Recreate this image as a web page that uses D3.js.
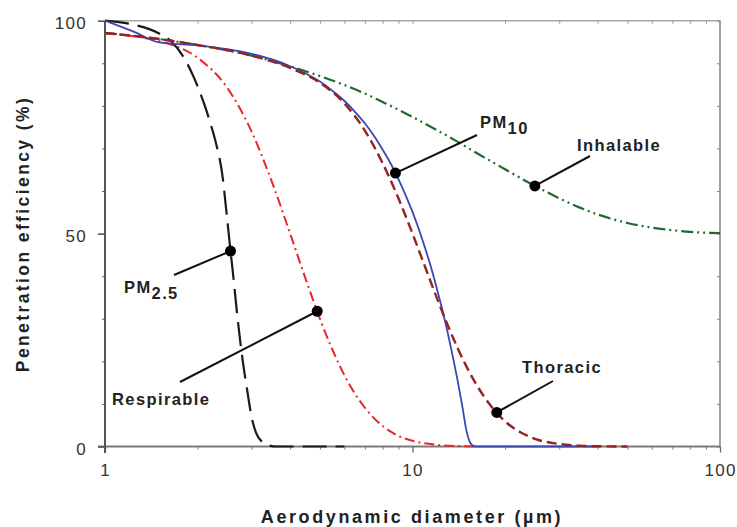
<!DOCTYPE html>
<html><head><meta charset="utf-8">
<script src="https://cdn.jsdelivr.net/npm/d3@7"></script>
<style>body{margin:0;background:#fff}svg{display:block}</style>
</head><body>
<svg id="c" width="737" height="527"></svg>
<script>
// ---- data ----
const xMajorTicks = [1, 10, 100];
const xMinorTicks = [2, 3, 4, 5, 6, 7, 8, 9, 20, 30, 40, 50, 60, 70, 80, 90];
const yMajorTicks = [0, 50, 100];
const yMinorTicks = [10, 20, 30, 40, 60, 70, 80, 90];

const inhalable = [[1,97.1],[1.5,95.7],[2,94.3],[3,91.8],[4,89.3],[5,87.0],[6,84.9],[7,82.9],[8,80.9],[9,79.1],[10,77.4],[12,74.3],[14,71.6],[16,69.1],[18,67.0],[20,65.1],[25,61.2],[30,58.3],[35,56.1],[40,54.5],[50,52.5],[60,51.4],[70,50.8],[80,50.4],[90,50.2],[100,50.1]];
const thoracic = [[1,97.1],[1.5,95.7],[2,94.3],[3,91.8],[4,88.9],[5,85.4],[6,80.6],[7,74.2],[8,66.5],[9,58.3],[10,50.0],[11,42.1],[12,34.9],[13,28.6],[14,23.2],[15,18.7],[16,15.0],[18,9.5],[20,5.9],[22.5,3.3],[25,1.8],[30,0.6],[35,0.2],[40,0.06],[50,0]];
const respirable = [[1,97.1],[1.25,96.3],[1.5,95.2],[2,91.3],[2.5,84.2],[3,73.9],[3.5,61.9],[4,50.0],[4.5,39.2],[5,30.0],[5.5,22.6],[6,16.8],[7,9.1],[8,4.8],[9,2.5],[10,1.35],[12,0.4],[14,0.1],[16,0]];
const pm10 = [[1,100],[1.25,97.3],[1.5,94.9],[2,94.2],[2.5,93.3],[3,92.2],[3.5,90.9],[4,89.3],[4.5,87.6],[5,85.7],[5.5,83.5],[6,81.2],[6.5,78.6],[7,75.9],[7.5,72.9],[8,69.7],[8.5,66.4],[9,62.8],[9.5,59.0],[10,55.1],[10.5,50.9],[11,46.5],[11.5,42.0],[12,37.1],[12.5,32.1],[13,26.9],[13.5,21.4],[14,15.7],[14.5,9.7],[15,3.5],[15.5,0.6],[16,0],[20,0],[40,0]];
const pm25 = [[1,100],[1.25,99.0],[1.5,97.0],[1.65,95.0],[1.8,91.5],[1.95,86.5],[2.1,80.5],[2.2,76.0],[2.3,71.0],[2.4,64.5],[2.5,53.0],[2.55,47.0],[2.6,41.5],[2.7,30.0],[2.8,20.5],[2.9,13.2],[3.0,6.8],[3.1,3.2],[3.25,1.0],[3.4,0.3],[3.6,0],[6,0]];

const seriesNames = ["Inhalable", "Thoracic", "Respirable", "PM10", "PM2.5"];
const annotationPoints = [["PM10", 8.8], ["Inhalable", 25], ["Thoracic", 18.8], ["Respirable", 4.9], ["PM2.5", 2.56]];

// ---- drawing ----
const svg = d3.select("#c");
const x = d3.scaleLog().domain([1, 100]).range([105, 720]);
const y = d3.scaleLinear().domain([0, 100]).range([446.5, 20.7]);

const dataBy = {"Inhalable": inhalable, "Thoracic": thoracic, "Respirable": respirable, "PM10": pm10, "PM2.5": pm25};
const styleBy = {
  "Inhalable": {color: "#1f6a2c", width: 2.2, dash: "12,4,2,4,2,4"},
  "Thoracic": {color: "#962224", width: 2.4, dash: "10,5"},
  "Respirable": {color: "#e8262c", width: 2.0, dash: "10,4,2,4"},
  "PM10": {color: "#3848b0", width: 1.8, dash: null},
  "PM2.5": {color: "#1a1a1a", width: 2.2, dash: "24,9"}
};

// frame
const frame = svg.append("g");
frame.append("line").attr("x1", 105).attr("x2", 720).attr("y1", 20.7).attr("y2", 20.7).attr("stroke", "#a8a8a8").attr("stroke-width", 1.5);
frame.append("line").attr("x1", 720).attr("x2", 720).attr("y1", 20.7).attr("y2", 446.5).attr("stroke", "#8a8a8a").attr("stroke-width", 1.6);

// top ticks (inside)
const topAx = svg.append("g").attr("transform", "translate(0,20.7)")
  .call(d3.axisBottom(x).tickValues(xMinorTicks.concat(xMajorTicks)).tickSize(3).tickFormat(""));
topAx.select(".domain").remove();
topAx.selectAll("line").attr("stroke", "#999");
// right ticks (inside)
const rightAx = svg.append("g").attr("transform", "translate(720,0)")
  .call(d3.axisLeft(y).tickValues(yMinorTicks.concat(yMajorTicks)).tickSize(3).tickFormat(""));
rightAx.select(".domain").remove();
rightAx.selectAll("line").attr("stroke", "#888");

// bottom axis
const bMinor = svg.append("g").attr("transform", "translate(0,446.5)")
  .call(d3.axisBottom(x).tickValues(xMinorTicks).tickSize(3).tickFormat(""));
bMinor.select(".domain").remove();
bMinor.selectAll("line").attr("stroke", "#777");
const bMajor = svg.append("g").attr("transform", "translate(0,446.5)")
  .call(d3.axisBottom(x).tickValues(xMajorTicks).tickSize(6).tickPadding(20).tickFormat(d3.format("d")));
bMajor.select(".domain").attr("d", "M98,0H720").attr("stroke", "#7a7a7a").attr("stroke-width", 1.8);
bMajor.selectAll("line").attr("stroke", "#666").attr("stroke-width", 1.3);
bMajor.selectAll("text").attr("font-family", "Liberation Sans, Arial, sans-serif").attr("font-size", 17)
  .attr("fill", "#333").attr("letter-spacing", "1.3px").attr("dy", "0.2em");

// left axis
const lMinor = svg.append("g").attr("transform", "translate(105,0)")
  .call(d3.axisLeft(y).tickValues(yMinorTicks).tickSize(3).tickFormat(""));
lMinor.select(".domain").remove();
lMinor.selectAll("line").attr("stroke", "#666");
const lMajor = svg.append("g").attr("transform", "translate(105,0)")
  .call(d3.axisLeft(y).tickValues(yMajorTicks).tickSize(7).tickPadding(11).tickFormat(d3.format("d")));
lMajor.select(".domain").attr("d", "M0,20.7V453").attr("stroke", "#555").attr("stroke-width", 2);
lMajor.selectAll("line").attr("stroke", "#555").attr("stroke-width", 1.6);
lMajor.selectAll("text").attr("font-family", "Liberation Sans, Arial, sans-serif").attr("font-size", 17)
  .attr("fill", "#333").attr("letter-spacing", "1.3px").attr("dy", "0.45em");

// curves
const line = d3.line().x(d => x(d[0])).y(d => y(d[1])).curve(d3.curveMonotoneX);
const drawOrder = ["Inhalable", "Respirable", "PM2.5", "PM10", "Thoracic"];
drawOrder.forEach(name => {
  const s = styleBy[name];
  svg.append("path").datum(dataBy[name]).attr("d", line)
    .attr("fill", "none").attr("stroke", s.color).attr("stroke-width", s.width)
    .attr("stroke-dasharray", s.dash).attr("stroke-linejoin", "round");
});

// annotations
function valueAt(data, d) {
  const lx = Math.log(d);
  for (let i = 1; i < data.length; i++) {
    if (data[i][0] >= d) {
      const a = data[i - 1], b = data[i];
      const t = (lx - Math.log(a[0])) / (Math.log(b[0]) - Math.log(a[0]));
      return a[1] + t * (b[1] - a[1]);
    }
  }
  return data[data.length - 1][1];
}
const labelLayout = {
  "PM10": {ex: 477, ey: 135, tx: 480, ty: 128, main: "PM", sub: "10"},
  "Inhalable": {ex: 590, ey: 156, tx: 577, ty: 151, main: "Inhalable"},
  "Thoracic": {ex: 553, ey: 381, tx: 522, ty: 373, main: "Thoracic"},
  "Respirable": {ex: 180, ey: 382, tx: 112, ty: 405, main: "Respirable"},
  "PM2.5": {ex: 174, ey: 275, tx: 124, ty: 293, main: "PM", sub: "2.5"}
};
const font = "Liberation Sans, Arial, Helvetica, sans-serif";
annotationPoints.forEach(([name, d]) => {
  const px = x(d), py = y(valueAt(dataBy[name], d));
  const L = labelLayout[name];
  svg.append("line").attr("x1", px).attr("y1", py).attr("x2", L.ex).attr("y2", L.ey)
    .attr("stroke", "#111").attr("stroke-width", 2);
  svg.append("circle").attr("cx", px).attr("cy", py).attr("r", 5.5).attr("fill", "#000");
  const t = svg.append("text").attr("x", L.tx).attr("y", L.ty)
    .attr("font-family", font).attr("font-weight", "bold").attr("font-size", 16.5)
    .attr("letter-spacing", "1.4px").attr("fill", "#222");
  t.append("tspan").text(L.main);
  if (L.sub) t.append("tspan").attr("dy", 6).attr("font-size", 16.5).text(L.sub);
});

// axis titles
svg.append("text").attr("x", 412).attr("y", 523).attr("text-anchor", "middle")
  .attr("font-family", font).attr("font-weight", "bold").attr("font-size", 18)
  .attr("letter-spacing", "2.6px").attr("fill", "#222").text("Aerodynamic diameter (\u00b5m)");
svg.append("text").attr("transform", "translate(29,234) rotate(-90)").attr("text-anchor", "middle")
  .attr("font-family", font).attr("font-weight", "bold").attr("font-size", 17.5)
  .attr("letter-spacing", "2.4px").attr("fill", "#222").text("Penetration efficiency (%)");
</script>
</body></html>
